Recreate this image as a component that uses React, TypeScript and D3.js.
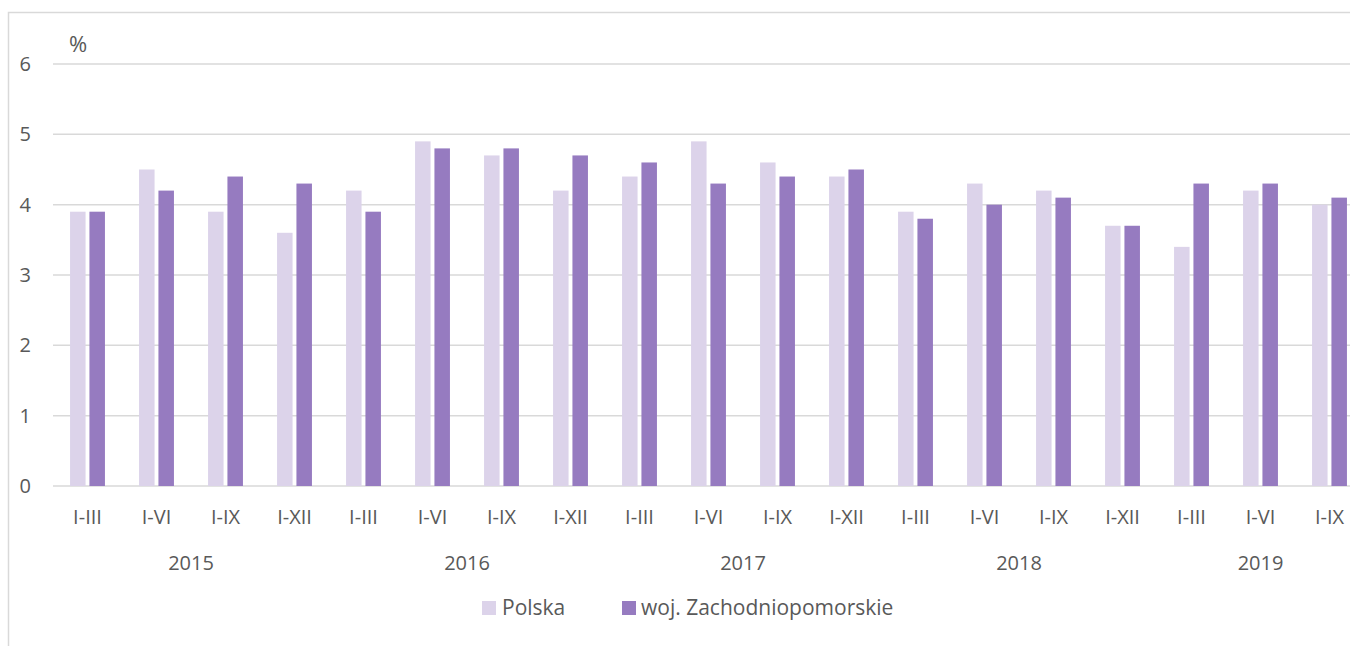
import React from 'react'
import * as d3 from 'd3'

// categories
const periods = ['I-III', 'I-VI', 'I-IX', 'I-XII', 'I-III', 'I-VI', 'I-IX', 'I-XII', 'I-III', 'I-VI', 'I-IX', 'I-XII', 'I-III', 'I-VI', 'I-IX', 'I-XII', 'I-III', 'I-VI', 'I-IX']
const years = ['2015', '2016', '2017', '2018', '2019']
const yearCounts = [4, 4, 4, 4, 3]

// series values (%)
const polska = [3.9, 4.5, 3.9, 3.6, 4.2, 4.9, 4.7, 4.2, 4.4, 4.9, 4.6, 4.4, 3.9, 4.3, 4.2, 3.7, 3.4, 4.2, 4.0]
const zachodniopomorskie = [3.9, 4.2, 4.4, 4.3, 3.9, 4.8, 4.8, 4.7, 4.6, 4.3, 4.4, 4.5, 3.8, 4.0, 4.1, 3.7, 4.3, 4.3, 4.1]

const yTicks = [0, 1, 2, 3, 4, 5, 6]

const seriesNames = ['Polska', 'woj. Zachodniopomorskie']
const colors = ['#dcd3ea', '#967bc0']

const W = 1350
const H = 646
const FONT = '"Open Sans", sans-serif'
const TEXT = '#595959'
const GRID = '#d9d9d9'

export default function App () {
  const idx = periods.map((_, i) => i)
  const x = d3.scaleBand<number>().domain(idx).range([53, 1364]).padding(0)
  const inner = d3.scaleBand<string>()
    .domain(['p', 'w'])
    .range([0, x.bandwidth()])
    .paddingInner(0.2)
    .paddingOuter(0.88)
  const y = d3.scaleLinear().domain([0, 6]).range([486, 64])

  // year group spans
  let start = 0
  const groups = years.map((yr, i) => {
    const s = start
    start += yearCounts[i]
    const x0 = x(s) as number
    const x1 = (x(s + yearCounts[i] - 1) as number) + x.bandwidth()
    return { yr, cx: (x0 + x1) / 2 }
  })

  return (
    <svg width={W} height={H} style={{ position: 'fixed', left: 0, top: 0, background: '#fff' }} fontFamily={FONT}>
      {/* chart frame */}
      <path d={`M8.5,${H} V12.5 H${W}`} fill='none' stroke={GRID} strokeWidth={1.5} />

      {yTicks.map(t => (
        <g key={t}>
          <line x1={53} x2={W} y1={y(t)} y2={y(t)} stroke={GRID} strokeWidth={1.5} />
          <text x={31} y={y(t)} dy='0.35em' textAnchor='end' fontSize={20} fill={TEXT}>{t}</text>
        </g>
      ))}
      <text x={69} y={52} fontSize={22} fill={TEXT}>%</text>

      {idx.map(i => (
        <g key={i} transform={`translate(${x(i)},0)`}>
          <rect x={inner('p')} width={inner.bandwidth()} y={y(polska[i])} height={y(0) - y(polska[i])} fill={colors[0]} />
          <rect x={inner('w')} width={inner.bandwidth()} y={y(zachodniopomorskie[i])} height={y(0) - y(zachodniopomorskie[i])} fill={colors[1]} />
          <text x={x.bandwidth() / 2} y={524} textAnchor='middle' fontSize={20} fill={TEXT}>{periods[i]}</text>
        </g>
      ))}

      {groups.map(g => (
        <text key={g.yr} x={g.cx} y={570} textAnchor='middle' fontSize={20} fill={TEXT}>{g.yr}</text>
      ))}

      {/* legend */}
      <g>
        <rect x={482} y={601} width={14} height={14} fill={colors[0]} />
        <text x={502} y={615} fontSize={21} fill={TEXT}>{seriesNames[0]}</text>
        <rect x={622} y={601} width={14} height={14} fill={colors[1]} />
        <text x={641} y={615} fontSize={21} fill={TEXT}>{seriesNames[1]}</text>
      </g>
    </svg>
  )
}
